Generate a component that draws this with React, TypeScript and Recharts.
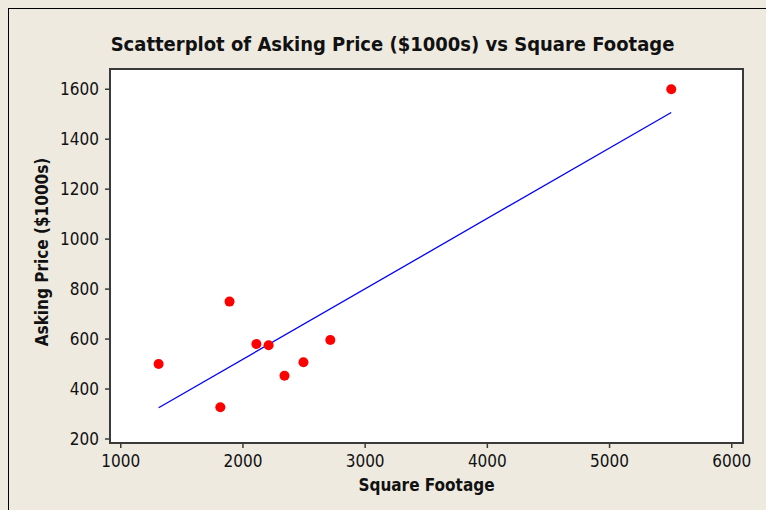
import React from "react";
import {
  ScatterChart,
  Scatter,
  XAxis,
  YAxis,
  Label,
} from "recharts";

// Square footage (x) vs asking price in $1000s (y)
const squareFootage = [1310, 1815, 1890, 2110, 2210, 2340, 2495, 2715, 5505];
const askingPrice = [500, 327, 750, 580, 575, 453, 507, 596, 1600];

// Fitted regression line endpoints
const fitX = [1310, 5505];
const fitY = [325, 1507];

const xTicks = [1000, 2000, 3000, 4000, 5000, 6000];
const yTicks = [200, 400, 600, 800, 1000, 1200, 1400, 1600];

const points = squareFootage.map((x, i) => ({ x, y: askingPrice[i] }));
const fitLine = fitX.map((x, i) => ({ x, y: fitY[i] }));

const FONT = '"DejaVu Sans Condensed", "DejaVu Sans", sans-serif';
const BG = "#EEEAE0";
const AXIS = "#3a3a3a";

const xDomain = [912, 6092];
const yDomain = [184, 1681];

export default function App() {
  return (
    <div
      style={{
        position: "absolute",
        left: 0,
        top: 0,
        width: 766,
        height: 510,
        background: BG,
        overflow: "hidden",
        fontFamily: FONT,
        fontStretch: "condensed",
      }}
    >
      <div
        style={{
          position: "absolute",
          left: 8,
          top: 8,
          width: 800,
          height: 600,
          borderLeft: "1.5px solid #000",
          borderTop: "1.5px solid #000",
        }}
      />
      <div
        style={{
          position: "absolute",
          left: 0,
          width: 785,
          top: 32,
          textAlign: "center",
          fontSize: 20,
          fontWeight: "bold",
          color: "#111",
          lineHeight: "24px",
        }}
      >
        Scatterplot of Asking Price ($1000s) vs Square Footage
      </div>
      <div style={{ position: "absolute", left: 0, top: 0 }}>
        <ScatterChart
          width={766}
          height={510}
          margin={{ top: 69, right: 23, left: 0, bottom: 0 }}
          style={{ fontFamily: FONT }}
        >
          <rect x={110} y={69} width={633} height={374} fill="#fff" stroke={AXIS} strokeWidth={2} />
          <XAxis
            type="number"
            dataKey="x"
            domain={xDomain}
            ticks={xTicks}
            allowDataOverflow
            height={67}
            tickSize={5}
            tickMargin={7}
            stroke={AXIS}
            strokeWidth={2}
            tick={{ fill: "#111", fontSize: 17, fontFamily: FONT }}
            tickLine={{ stroke: AXIS, strokeWidth: 1.5 }}
          >
            <Label
              content={(props: any) => {
                const vb = props.viewBox;
                return (
                  <text
                    x={vb.x + vb.width / 2}
                    y={491}
                    textAnchor="middle"
                    fontSize={17}
                    fontWeight="bold"
                    fontFamily={FONT}
                    fill="#111"
                  >
                    Square Footage
                  </text>
                );
              }}
            />
          </XAxis>
          <YAxis
            type="number"
            dataKey="y"
            domain={yDomain}
            ticks={yTicks}
            allowDataOverflow
            width={110}
            tickSize={5}
            tickMargin={6}
            stroke={AXIS}
            strokeWidth={2}
            tick={{ fill: "#111", fontSize: 17, fontFamily: FONT }}
            tickLine={{ stroke: AXIS, strokeWidth: 1.5 }}
          >
            <Label
              content={(props: any) => {
                const vb = props.viewBox;
                const cx = 48;
                const cy = vb.y + vb.height / 2 - 4;
                return (
                  <text
                    x={cx}
                    y={cy}
                    textAnchor="middle"
                    transform={`rotate(-90, ${cx}, ${cy})`}
                    fontSize={17}
                    fontWeight="bold"
                    fontFamily={FONT}
                    fill="#111"
                  >
                    Asking Price ($1000s)
                  </text>
                );
              }}
            />
          </YAxis>
          <Scatter
            data={fitLine}
            line={{ stroke: "#0000FF", strokeWidth: 1.3 }}
            lineType="joint"
            shape={() => null}
            isAnimationActive={false}
          />
          <Scatter
            data={points}
            fill="#FF0000"
            shape={(p: any) => <circle cx={p.cx} cy={p.cy} r={5} fill="#FF0000" />}
            isAnimationActive={false}
          />
        </ScatterChart>
      </div>
    </div>
  );
}
